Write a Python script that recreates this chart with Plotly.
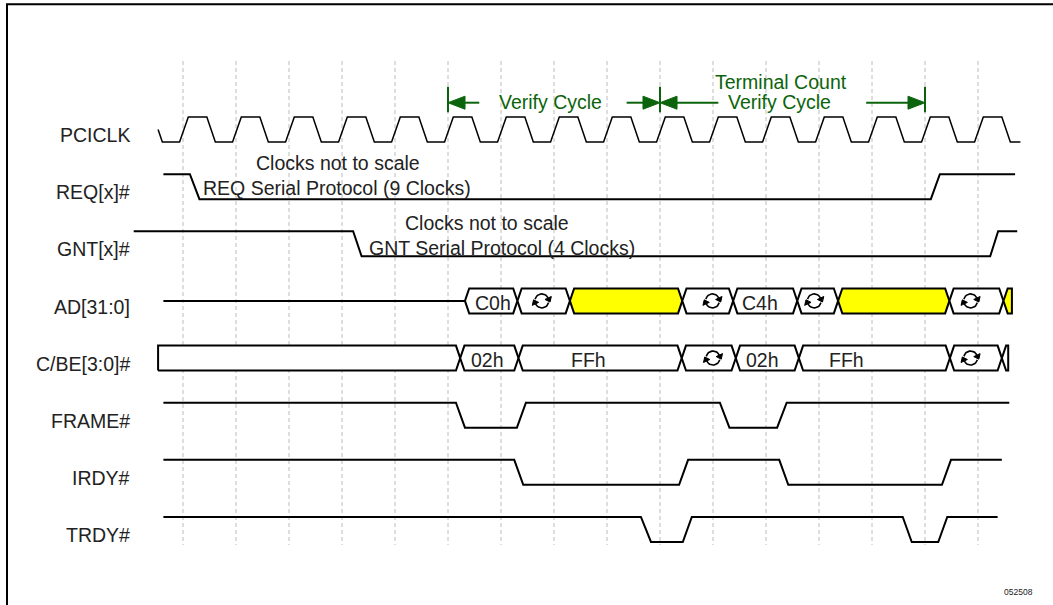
import numpy as np
import plotly.graph_objects as go

# ---------------- data (time in clock periods; gridline k = clock edge k) ----------------
grid_ticks = [0, 1, 2, 3, 4, 5, 6, 7, 8, 9, 10, 11, 12, 13, 14, 15]
clock_cycles = [-1, 0, 1, 2, 3, 4, 5, 6, 7, 8, 9, 10, 11, 12, 13, 14, 15]
clock_span = [-0.47, 15.8]
clock_rise = [-0.065, 0.10]
clock_fall = [0.45, 0.61]

signal_names = ["PCICLK", "REQ[x]#", "GNT[x]#", "AD[31:0]", "C/BE[3:0]#",
                "FRAME#", "IRDY#", "TRDY#"]

req_t = [-0.37, 0.13, 0.31, 14.11, 14.28, 15.70]
req_v = [1, 1, 0, 0, 1, 1]
gnt_t = [-0.93, 3.21, 3.37, 15.23, 15.38, 15.74]
gnt_v = [1, 1, 0, 0, 1, 1]
frame_t = [-0.37, 5.15, 5.32, 6.30, 6.47, 10.13, 10.31, 11.21, 11.39, 15.59]
frame_v = [1, 1, 0, 0, 1, 1, 0, 0, 1, 1]
irdy_t = [-0.37, 6.25, 6.42, 9.36, 9.53, 11.25, 11.42, 14.32, 14.49, 15.45]
irdy_v = [1, 1, 0, 0, 1, 1, 0, 0, 1, 1]
trdy_t = [-0.37, 8.64, 8.83, 9.43, 9.60, 13.58, 13.75, 14.25, 14.42, 15.37]
trdy_v = [1, 1, 0, 0, 1, 1, 0, 0, 1, 1]

ad_idle = [-0.37, 5.32]
ad_bounds = [5.32, 6.31, 7.30, 9.42, 10.38, 11.59, 12.36, 14.46, 15.48, 15.64]
ad_labels = ["C0h", "TA", "", "TA", "C4h", "TA", "", "TA", ""]
ad_text_x = [5.85, 6.77, None, 9.99, 10.89, 11.91, None, 14.86, None]
ad_fills = ["white", "white", "#FFFF00", "white", "white", "white", "#FFFF00", "white", "#FFFF00"]

cbe_bounds = [-0.47, 5.23, 6.33, 9.41, 10.43, 11.62, 14.47, 15.45, 15.57]
cbe_labels = ["", "02h", "FFh", "TA", "02h", "FFh", "TA", ""]
cbe_text_x = [None, 5.74, 7.66, 10.0, 10.94, 12.52, 14.86, None]
cbe_fills = ["white"] * 8

annot_texts = [
    ("Clocks not to scale", 2.92, 0.586),
    ("REQ Serial Protocol (9 Clocks)", 2.90, 1.029),
    ("Clocks not to scale", 5.74, 1.636),
    ("GNT Serial Protocol (4 Clocks)", 6.01, 2.074),
]
cycle_texts = [
    ("Verify Cycle", 6.94, -0.481),
    ("Terminal Count", 11.28, -0.831),
    ("Verify Cycle", 11.26, -0.487),
]
cycle_bars = [5, 9, 14]
cycle_arrows = [(5.59, 5), (8.37, 9), (10.10, 9), (12.89, 14)]  # (tail, tip)

# ---------------- geometry helpers ----------------
PX_X = 53.0          # pixels per clock period
PX_Y = 57.14         # pixels per signal row
X0 = 183.0           # pixel of gridline 0
Y0 = 129.5           # pixel of row 0 mid
W, H = 1053, 605
HALF = 12.5 / PX_Y   # half swing of a signal
D = 0.08             # half width of a bus crossing
GREEN = "#0b640b"
FONT = "Liberation Sans, Arial"
FS = 19.5
TXT = "#222222"

def lvl(row, v):
    return row - HALF if v else row + HALF

fig = go.Figure()

# gridlines
for k in grid_ticks:
    fig.add_shape(type="line", x0=k, x1=k, y0=(61 - Y0) / PX_Y, y1=(545 - Y0) / PX_Y,
                  line=dict(color="#bcbcbc", width=1, dash="4px,3px"), layer="below")

# clock
ct, cv = [], []
for k in clock_cycles:
    ct += [k + clock_rise[0], k + clock_rise[1], k + clock_fall[0], k + clock_fall[1]]
    cv += [0, 1, 1, 0]
ct, cv = np.array(ct), np.array(cv, dtype=float)
keep = (ct > clock_span[0]) & (ct < clock_span[1])
cx = np.concatenate([[clock_span[0]], ct[keep], [clock_span[1]]])
cvv = np.concatenate([[np.interp(clock_span[0], ct, cv)], cv[keep], [np.interp(clock_span[1], ct, cv)]])
fig.add_trace(go.Scatter(x=cx, y=[0 + HALF - 2 * HALF * v for v in cvv], mode="lines",
                         line=dict(color="black", width=1.5), hoverinfo="skip"))

# digital signals
for row, (ts, vs) in zip([1, 2, 5, 6, 7], [(req_t, req_v), (gnt_t, gnt_v), (frame_t, frame_v),
                                            (irdy_t, irdy_v), (trdy_t, trdy_v)]):
    fig.add_trace(go.Scatter(x=ts, y=[lvl(row, v) for v in vs], mode="lines",
                             line=dict(color="black", width=2), hoverinfo="skip"))

# bus helpers
def box_poly(b1, b2, row, left_point, right_point):
    top, bot = row - HALF, row + HALF
    xs, ys = [], []
    if left_point:
        xs += [b1, b1 + D]; ys += [row, top]
    else:
        xs += [b1, b1]; ys += [bot, top]
    if right_point:
        xs += [b2 - D, b2, b2 - D]; ys += [top, row, bot]
    else:
        xs += [b2, b2]; ys += [top, bot]
    if left_point:
        xs += [b1 + D, b1]; ys += [bot, row]
    else:
        xs += [b1]; ys += [bot]
    return xs, ys

def turn_symbol(cx_, cy_):
    r = 7.0
    arcs_x, arcs_y, heads_x, heads_y = [], [], [], []
    for a0, a1 in [(165, 25), (-15, -155)]:
        ang = np.radians(np.linspace(a0, a1, 16))
        px = r * np.cos(ang)
        py = -r * np.sin(ang)
        arcs_x += list(cx_ + px / PX_X) + [None]
        arcs_y += list(cy_ + py / PX_Y) + [None]
        ae = ang[-1]
        tx, ty = np.sin(ae), np.cos(ae)      # screen tangent, clockwise
        nx, ny = -ty, tx
        ex, ey = px[-1], py[-1]
        pts = [(ex + 4.5 * tx, ey + 4.5 * ty), (ex + 3.5 * nx, ey + 3.5 * ny), (ex - 3.5 * nx, ey - 3.5 * ny)]
        heads_x += [cx_ + p[0] / PX_X for p in pts] + [cx_ + pts[0][0] / PX_X, None]
        heads_y += [cy_ + p[1] / PX_Y for p in pts] + [cy_ + pts[0][1] / PX_Y, None]
    return arcs_x, arcs_y, heads_x, heads_y

sym_ax, sym_ay, sym_hx, sym_hy = [], [], [], []

def draw_bus(row, bounds, labels, text_x, fills, first_point, last_clip):
    n = len(bounds) - 1
    for i in range(n):
        lp = first_point if i == 0 else True
        rp = not (last_clip and i == n - 1)
        xs, ys = box_poly(bounds[i], bounds[i + 1], row, lp, rp)
        fig.add_trace(go.Scatter(x=xs, y=ys, mode="lines", fill="toself", fillcolor=fills[i],
                                 line=dict(color="black", width=2), hoverinfo="skip"))
        lab = labels[i]
        if lab == "TA":
            a = turn_symbol(text_x[i], row)
            sym_ax.extend(a[0]); sym_ay.extend(a[1]); sym_hx.extend(a[2]); sym_hy.extend(a[3])
        elif lab:
            fig.add_annotation(x=text_x[i], y=row + 0.04, text=lab, showarrow=False,
                               font=dict(size=FS, color=TXT, family=FONT))

# AD bus
fig.add_trace(go.Scatter(x=ad_idle, y=[3, 3], mode="lines", line=dict(color="black", width=2),
                         hoverinfo="skip"))
draw_bus(3, ad_bounds, ad_labels, ad_text_x, ad_fills, True, True)
# C/BE bus
draw_bus(4, cbe_bounds, cbe_labels, cbe_text_x, cbe_fills, False, True)

fig.add_trace(go.Scatter(x=sym_ax, y=sym_ay, mode="lines", line=dict(color="black", width=1.6),
                         hoverinfo="skip"))
fig.add_trace(go.Scatter(x=sym_hx, y=sym_hy, mode="lines", fill="toself", fillcolor="black",
                         line=dict(color="black", width=1), hoverinfo="skip"))

# signal labels
for i, name in enumerate(signal_names):
    fig.add_annotation(x=(131.7 - X0) / PX_X, y=i + 0.10, text=name, xanchor="right",
                       showarrow=False, font=dict(size=FS, color=TXT, family=FONT))

for txt, x, y in annot_texts:
    fig.add_annotation(x=x, y=y, text=txt, showarrow=False,
                       font=dict(size=FS, color=TXT, family=FONT))

# verify cycle markers
bar_top, bar_bot = (86.7 - Y0) / PX_Y, (112.3 - Y0) / PX_Y
arrow_y = (102.7 - Y0) / PX_Y
for b in cycle_bars:
    fig.add_trace(go.Scatter(x=[b, b], y=[bar_top, bar_bot], mode="lines",
                             line=dict(color=GREEN, width=2), hoverinfo="skip"))
hx, hy = [], []
for tail, tip in cycle_arrows:
    sgn = 1 if tip > tail else -1
    base = tip - sgn * 17 / PX_X
    fig.add_trace(go.Scatter(x=[tail, base], y=[arrow_y, arrow_y], mode="lines",
                             line=dict(color=GREEN, width=2), hoverinfo="skip"))
    hx += [tip, base, base, tip, None]
    hy += [arrow_y, arrow_y - 6.5 / PX_Y, arrow_y + 6.5 / PX_Y, arrow_y, None]
fig.add_trace(go.Scatter(x=hx, y=hy, mode="lines", fill="toself", fillcolor=GREEN,
                         line=dict(color=GREEN, width=1), hoverinfo="skip"))
for txt, x, y in cycle_texts:
    fig.add_annotation(x=x, y=y, text=txt, showarrow=False,
                       font=dict(size=FS, color=GREEN, family=FONT))

# figure id and frame
fig.add_annotation(x=1034.5 / W, y=1 - 599 / H, xref="paper", yref="paper", text="052508",
                   showarrow=False, font=dict(size=8.5, color="#222222", family=FONT))
fig.add_shape(type="path", xref="paper", yref="paper",
              path=f"M {7/W},0 L {7/W},{1-4.3/H} L 1,{1-4.3/H}",
              line=dict(color="black", width=2))

fig.update_layout(
    width=W, height=H, margin=dict(l=0, r=0, t=0, b=0),
    paper_bgcolor="white", plot_bgcolor="white", showlegend=False,
    xaxis=dict(range=[-X0 / PX_X, (W - X0) / PX_X], visible=False, fixedrange=True),
    yaxis=dict(range=[(H - Y0) / PX_Y, -Y0 / PX_Y], visible=False, fixedrange=True),
)
fig.write_html("out.html", config={"displayModeBar": False},
               post_script="document.body.style.margin='0';document.body.style.overflow='hidden';")
